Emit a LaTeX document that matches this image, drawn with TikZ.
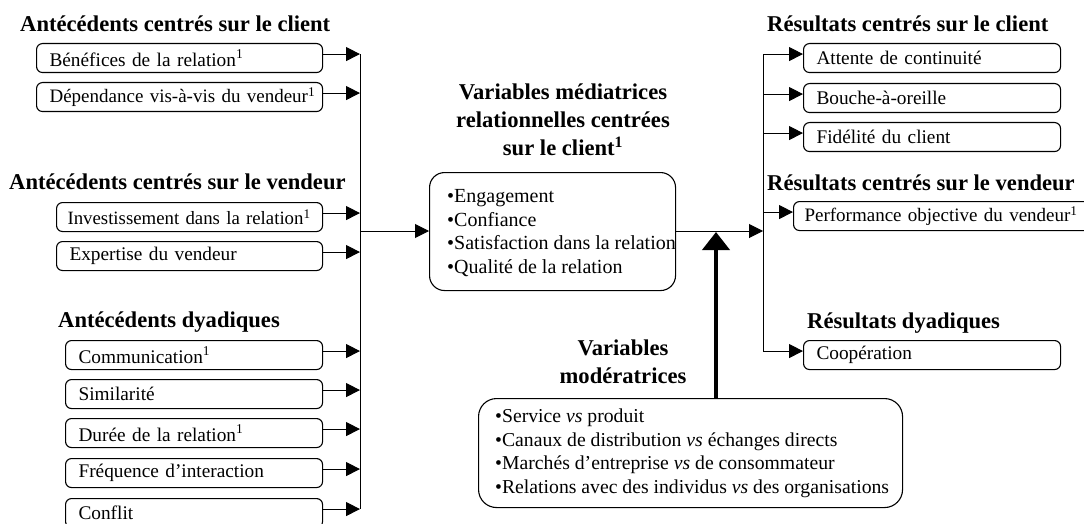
\documentclass[tikz,border=0pt]{standalone}
\usepackage{fontspec}
\setmainfont{Liberation Serif}
\usetikzlibrary{arrows.meta,calc}
\begin{document}
\begin{tikzpicture}[x=1pt,y=-1pt,
  box/.style={draw, line width=1.1pt, rounded corners=6pt, anchor=north west,
    minimum height=29pt, inner xsep=13pt, inner ysep=0pt, align=left,
    font=\fontsize{19.3}{22}\selectfont},
  ttl/.style={font=\bfseries\fontsize{22.6}{27.5}\selectfont, inner sep=0pt},
  lst/.style={font=\fontsize{20}{23.4}\selectfont, inner sep=0pt, align=left, anchor=base west},
  arr/.style={line width=1pt, -{Triangle[length=14pt,width=14pt]}},
  ln/.style={line width=1pt},
  big/.style={line width=4pt, -{Triangle[length=18pt,width=27pt]}}]
\useasboundingbox (0,0) rectangle (1084,524);

% left titles
\node[ttl, anchor=base west] (t1) at (20,32) {Antécédents centrés sur le client};
\node[ttl, anchor=base west] (t2) at (9,189) {Antécédents centrés sur le vendeur};
\node[ttl, anchor=base west] (t3) at (58,327) {Antécédents dyadiques};

% left boxes
\node[box, text width=260pt] (b1) at (36,43) {\mbox{Bénéfices de la relation\textsuperscript{1}}};
\node[box, text width=260pt, font=\fontsize{19}{22}\selectfont] (b2) at (36,82) {\mbox{Dépendance vis-à-vis du vendeur\textsuperscript{1}}};
\node[box, text width=244pt, inner xsep=11pt, font=\fontsize{18.8}{22}\selectfont] (b3) at (56,202) {\mbox{Investissement dans la relation\textsuperscript{1}}};
\node[box, text width=240pt] (b4) at (56,241) {\mbox{Expertise du vendeur}};
\node[box, text width=231pt] (d1) at (65,340) {\mbox{Communication\textsuperscript{1}}};
\node[box, text width=231pt] (d2) at (65,379) {\mbox{Similarité}};
\node[box, text width=231pt] (d3) at (65,418) {\mbox{Durée de la relation\textsuperscript{1}}};
\node[box, text width=231pt] (d4) at (65,458) {\mbox{Fréquence d'interaction}};
\node[box, text width=231pt] (d5) at (65,498) {\mbox{Conflit}};

\coordinate (lv) at (360,0);
\foreach \n in {b1,b2,b3,b4,d1,d2,d3,d4,d5}
  \draw[arr] ([yshift=4pt]\n.east) -- ([yshift=4pt]\n.east -| lv);
\draw[ln] ([yshift=4pt]b1.east -| lv) -- ([yshift=4pt]d5.east -| lv);

% central box
\node[draw, line width=1.1pt, rounded corners=15pt, anchor=north west,
  minimum width=246pt, minimum height=118pt] (mid) at (429,172) {};
\node[ttl, align=center, anchor=base] (mt) at (563,155)
  {Variables médiatrices\\relationnelles centrées\\sur le client\textsuperscript{1}};
\node[lst] (ml) at (447,273)
  {•Engagement\\•Confiance\\•Satisfaction dans la relation\\•Qualité de la relation};

\coordinate (lm) at (360,231);
\draw[arr] (lm) -- (lm -| mid.west);

% right side
\node[ttl, anchor=base west] (rt1) at (767,32) {Résultats centrés sur le client};
\node[ttl, anchor=base west] (rt2) at (767,190) {Résultats centrés sur le vendeur};
\node[ttl, anchor=base west] (rt3) at (807,328) {Résultats dyadiques};

\node[box, text width=231pt] (r1) at (803,43) {\mbox{Attente de continuité}};
\node[box, text width=231pt] (r2) at (803,83) {\mbox{Bouche-à-oreille}};
\node[box, text width=231pt] (r3) at (803,122) {\mbox{Fidélité du client}};
\node[box, text width=280pt, inner xsep=11pt, font=\fontsize{19}{22}\selectfont] (r4) at (793,201) {\mbox{Performance objective du vendeur\textsuperscript{1}}};
\node[box, text width=231pt] (r5) at (803,340) {\mbox{Coopération}};

\coordinate (rv) at (763,231);
\draw[arr] (mid.east |- rv) -- (rv);
\draw[ln] ([yshift=4pt]r1.west -| rv) -- ([yshift=4pt]r5.west -| rv);
\foreach \n in {r1,r2,r3,r4,r5}
  \draw[arr] ([yshift=4pt]\n.west -| rv) -- ([yshift=4pt]\n.west);

% moderators
\node[ttl, align=center, anchor=base] (modt) at (623,383) {Variables\\modératrices};
\node[draw, line width=1.1pt, rounded corners=18pt, anchor=north west,
  minimum width=424pt, minimum height=109pt] (mod) at (478,398) {};
\node[lst, font=\fontsize{19.7}{23.4}\selectfont] (modl) at (495,493)
  {•Service \textit{vs} produit\\•Canaux de distribution \textit{vs} échanges directs\\•Marchés d'entreprise \textit{vs} de consommateur\\•Relations avec des individus \textit{vs} des organisations};

\coordinate (ta) at (716,232);
\draw[big] (ta |- mod.north) -- (ta);
\end{tikzpicture}
\end{document}
